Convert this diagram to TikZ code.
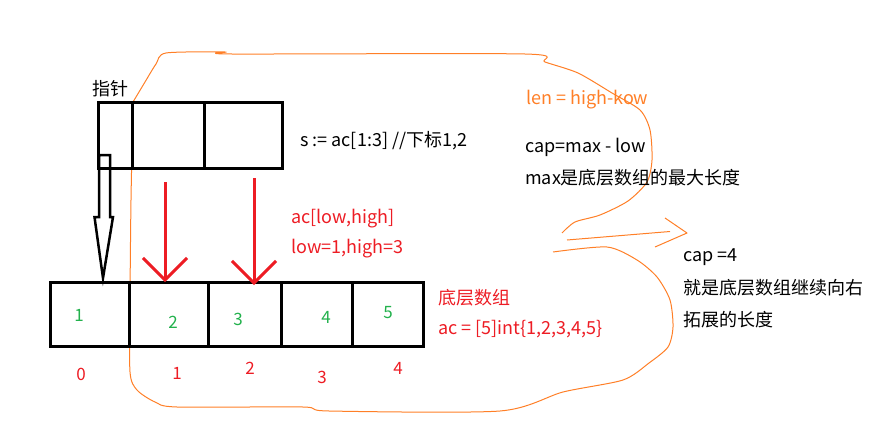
\documentclass[tikz,border=0pt]{standalone}
\usepackage{fontspec}
\setmainfont{Noto Sans CJK SC}
\usetikzlibrary{arrows.meta,positioning}
\definecolor{penred}{RGB}{237,28,36}
\definecolor{pengreen}{RGB}{34,177,76}
\definecolor{penorange}{RGB}{255,127,39}
\tikzset{
  cell/.style={draw, line width=3pt, inner sep=0pt, outer sep=0pt, minimum height=64pt},
  slot/.style={cell, minimum height=66pt},
  elem/.style={text=pengreen, inner sep=0pt, font=\fontsize{17}{20}\selectfont},
  idx/.style={text=penred, inner sep=0pt, font=\fontsize{17}{20}\selectfont},
  note/.style={anchor=west, inner sep=0pt, font=\fontsize{18}{21}\selectfont},
  rednote/.style={note, text=penred},
  hollow/.style={draw, line width=2.5pt, line join=miter},
  redarrow/.style={draw=penred, line width=3pt, -{Straight Barb[length=22pt,width=44pt]}},
  sketch/.style={draw=penorange, line width=1pt, line join=round},
}

\begin{document}
\begin{tikzpicture}[x=1pt, y=-1pt]
  \useasboundingbox (0,0) rectangle (886,434);
  % orange cloud round the slice
  \draw[sketch] plot[smooth, tension=0.45] coordinates {
    (133,102) (145,82) (156,64) (166,53) (225,52) (232,54) (525,54) (545,62)
    (578,73) (612,93) (640,110) (650,130) (652,160) (647,182) (628,201)
    (600,215) (575,222) (562,233)};
  \draw[sketch] plot[smooth, tension=0.45] coordinates {
    (553,252) (607,247) (637,260) (657,277) (670,300) (673,327) (668,347)
    (649,363) (623,380) (563,392) (500,411) (329,411) (303,407) (177,407)
    (155,402) (137,390) (130,372) (130,300) (131,200) (133,102)};
  \coordinate (capfrom) at (567,240);
  \coordinate (capto) at (687,233);
  \draw[sketch] (capfrom) -- (670,231.5);
  \draw[sketch] (665,218) -- (capto) -- (655,247);

  % slice header
  \node[slot, minimum width=34pt] (p0) at (115,135) {};
  \node[slot, minimum width=72pt, right=0pt of p0] (p1) {};
  \node[slot, minimum width=78pt, right=0pt of p1] (p2) {};
  \node[note] (ptr) at (92,89) {指针};
  \node[note] (slice) at (300,141) {s := ac[1:3] //下标1,2};

  % underlying array
  \node[cell, minimum width=79pt] (b0) at (89.5,314) {};
  \node[cell, minimum width=79pt, right=0pt of b0] (b1) {};
  \node[cell, minimum width=73pt, right=0pt of b1] (b2) {};
  \node[cell, minimum width=71pt, right=0pt of b2] (b3) {};
  \node[cell, minimum width=71pt, right=0pt of b3] (b4) {};
  \node[elem] (v0) at (79,315) {1};
  \node[elem] (v1) at (173,322) {2};
  \node[elem] (v2) at (238,319) {3};
  \node[elem] (v3) at (326,317) {4};
  \node[elem] (v4) at (388,313) {5};
  \node[idx] (i0) at (81,374) {0};
  \node[idx] (i1) at (177,373) {1};
  \node[idx] (i2) at (250,368) {2};
  \node[idx] (i3) at (322,377) {3};
  \node[idx] (i4) at (398,368) {4};

  % pointer
  \coordinate (ptail) at (104.5,155);
  \coordinate (phead) at (103,278);
  \draw[hollow] (ptail) -- ++(-5.5,0) -- ++(0,62) -- ++(-4.5,0) -- (phead)
    -- ++(10,-61) -- ++(-3,0) -- ++(0,-62) -- cycle;

  % low and high
  \coordinate (low) at (165,182);
  \coordinate (high) at (254,178);
  \draw[redarrow] (low) -- (low |- b1.north);
  \draw[redarrow] (high) -- ([yshift=-3pt]high |- b2.north);

  \node[rednote] (range) at (291,219) {ac[low,high]};
  \node[rednote] (bounds) at (291,249) {low=1,high=3};
  \node[rednote] (arr) at (438,298) {底层数组};
  \node[rednote] (arrdef) at (438,329) {ac = [5]int\{1,2,3,4,5\}};

  \node[note, text=penorange] (len) at (526,100) {len = high-kow};
  \node[note] (cap) at (525,147) {cap=max - low};
  \node[note] (max) at (525,178) {max是底层数组的最大长度};
  \node[note] (capval) at (683,257) {cap =4};
  \node[note] (capdesc) at (683,288) {就是底层数组继续向右};
  \node[note] (capdesc2) at (683,320) {拓展的长度};
\end{tikzpicture}
\end{document}
